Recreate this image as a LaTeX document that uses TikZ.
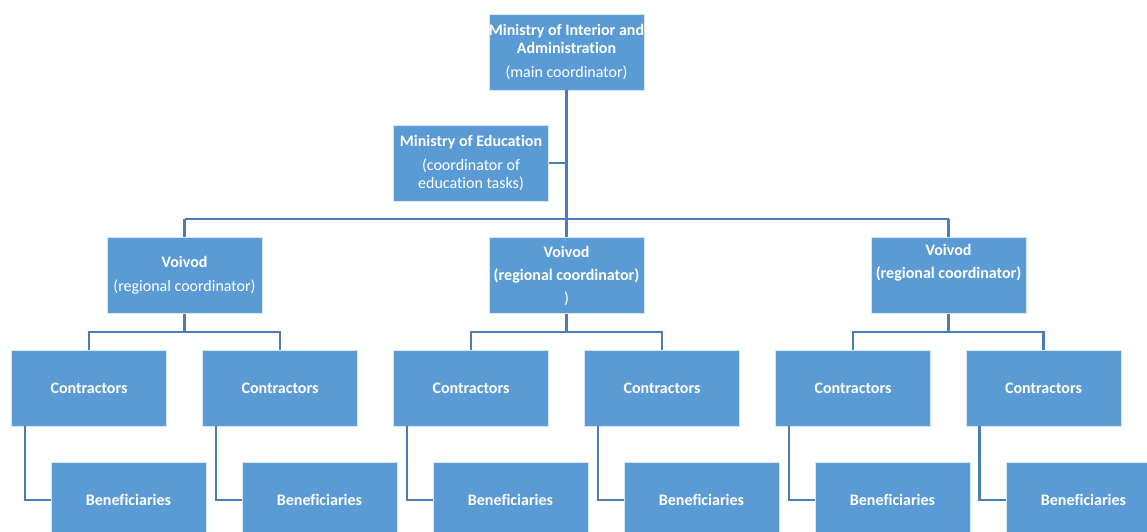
\documentclass[tikz,border=0pt]{standalone}
\usepackage{fontspec}
\setmainfont{Carlito}[Ligatures=NoCommon]
\definecolor{boxblue}{HTML}{5B9BD5}
\definecolor{linkblue}{HTML}{4A7DB5}
\begin{document}
\begin{tikzpicture}[x=1pt,y=-1pt,
  orgbox/.style={fill=boxblue, draw=white!75!boxblue, line width=0.8pt,
    minimum width=155, minimum height=76, inner sep=0pt, text=white,
    align=center, font=\fontsize{16}{18.5}\selectfont},
  link/.style={draw=linkblue, line width=2.6pt}]
\useasboundingbox (0,0) rectangle (1147,532);
\fill[white] (0,0) rectangle (1147,532);
% top
\node[orgbox] (top) at (566.5,52) {\textbf{Ministry of Interior and}\\\textbf{Administration}\\[5.5pt](main coordinator)};
\node[orgbox] (edu) at (471,163) {\textbf{Ministry of Education}\\[5.5pt](coordinator of\\education tasks)};
% voivods
\node[orgbox] (v1) at (184.5,275.5) {\textbf{Voivod}\\[5.5pt](regional coordinator)};
\node[orgbox] (v2) at (566.5,275.5) {\textbf{Voivod}\\[4.5pt]\textbf{(regional coordinator)}\\[4.5pt])};
\node[orgbox] (v3) at (948.5,275.5) {\textbf{Voivod}\\[4.5pt]\textbf{(regional coordinator)}\\[4.5pt]\strut};
% contractors
\node[orgbox] (c1) at (89,388) {\textbf{Contractors}};
\node[orgbox] (c2) at (280,388) {\textbf{Contractors}};
\node[orgbox] (c3) at (471,388) {\textbf{Contractors}};
\node[orgbox] (c4) at (662,388) {\textbf{Contractors}};
\node[orgbox] (c5) at (853,388) {\textbf{Contractors}};
\node[orgbox] (c6) at (1043.5,388) {\textbf{Contractors}};
% beneficiaries
\node[orgbox] (b1) at (128.5,500) {\textbf{Beneficiaries}};
\node[orgbox] (b2) at (319.5,500) {\textbf{Beneficiaries}};
\node[orgbox] (b3) at (510.5,500) {\textbf{Beneficiaries}};
\node[orgbox] (b4) at (701.5,500) {\textbf{Beneficiaries}};
\node[orgbox] (b5) at (892.5,500) {\textbf{Beneficiaries}};
\node[orgbox] (b6) at (1083.5,500) {\textbf{Beneficiaries}};
% bus coordinates
\coordinate (bus) at (566.5,219);
\coordinate (m) at (0,332);
% links top
\draw[link] (top.south) -- (bus);
\draw[link] (edu.east) -- (edu.east -| bus);
\draw[link] (v1.north |- bus) -- (v3.north |- bus);
\draw[link] (v1.north) -- (v1.north |- bus);
\draw[link] (v2.north) -- (v2.north |- bus);
\draw[link] (v3.north) -- (v3.north |- bus);
% voivod to contractors
\foreach \v/\a/\b in {v1/c1/c2, v2/c3/c4, v3/c5/c6}{
  \draw[link] (\v.south) -- (\v.south |- m);
  \draw[link] (\a.north) -- (\a.north |- m) -- (\b.north |- m) -- (\b.north);
}
% contractors to beneficiaries
\foreach \c/\b in {c1/b1, c2/b2, c3/b3, c4/b4, c5/b5, c6/b6}{
  \draw[link] ([xshift=14pt]\c.south west) |- (\b.west);
}
\end{tikzpicture}
\end{document}
